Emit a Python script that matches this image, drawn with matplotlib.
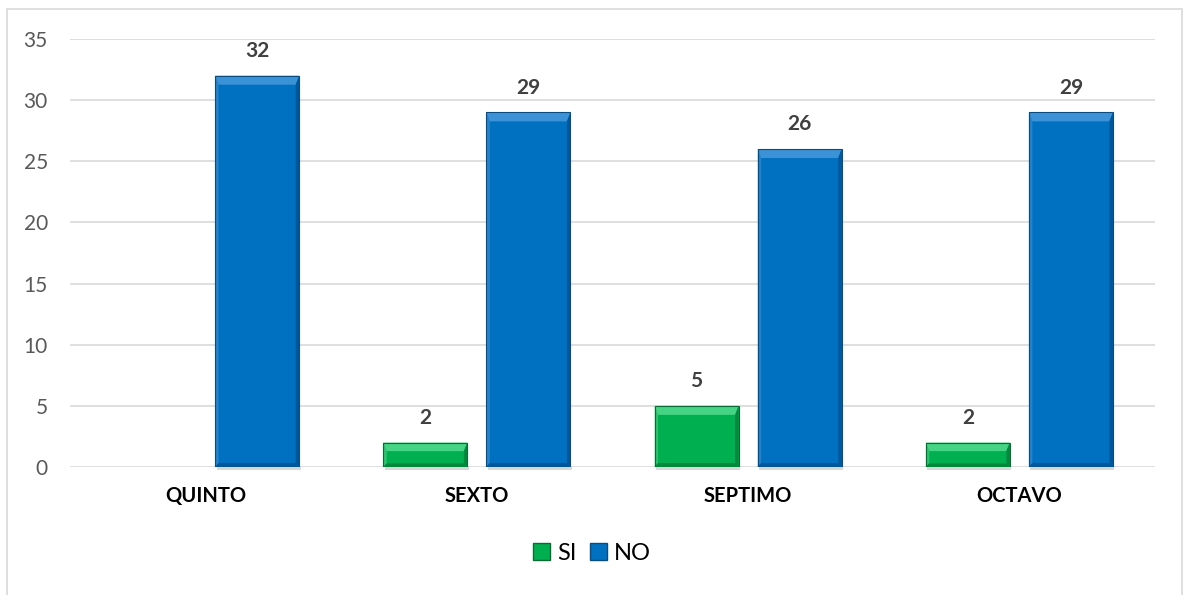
import numpy as np
import matplotlib
matplotlib.use("Agg")
import matplotlib.pyplot as plt
from matplotlib.patches import Polygon, Rectangle

# datos
cursos = ["QUINTO", "SEXTO", "SEPTIMO", "OCTAVO"]
si = [0, 2, 5, 2]
no = [32, 29, 26, 29]

plt.rcParams['font.family'] = ['Lato', 'DejaVu Sans']

fig = plt.figure(figsize=(11.84, 5.95), dpi=100)
ax = fig.add_axes([0.0591, 0.2151, 0.9164, 0.7193])

# borde del grafico
fig.patches.append(Rectangle((0.0055, -0.01), 0.993, 0.9955, transform=fig.transFigure,
                             fill=False, edgecolor="#D9D9D9", linewidth=1.2))

x = np.arange(len(cursos))
w = 0.31
off = 0.19
b1 = ax.bar(x - off, si, w, color="#00B050", zorder=3)
b2 = ax.bar(x + off, no, w, color="#0070C0", zorder=3)

ax.set_xlim(-0.5, 3.5)
ax.set_ylim(0, 35)


# efecto bisel tipo Excel
def bisel(ax, bars, light, dark, darker):
    px = ax.transData.transform((1, 0))[0] - ax.transData.transform((0, 0))[0]
    py = ax.transData.transform((0, 1))[1] - ax.transData.transform((0, 0))[1]
    for r in bars:
        h = r.get_height()
        if h <= 0:
            continue
        x0 = r.get_x()
        x1 = x0 + r.get_width()
        t = min(9.0, h * py * 0.35) / py   # alto bisel superior
        s = 3.5 / px                       # ancho bisel lateral
        bt = min(4.0, h * py * 0.15) / py  # bisel inferior
        ax.add_patch(Polygon([(x0, h), (x1, h), (x1 - s, h - t), (x0 + s, h - t)],
                             closed=True, facecolor=light, edgecolor="none", zorder=4))
        ax.add_patch(Polygon([(x0, 0), (x0, h), (x0 + s, h - t), (x0 + s, bt)],
                             closed=True, facecolor=light, edgecolor="none", alpha=0.6, zorder=4))
        ax.add_patch(Polygon([(x1, 0), (x1, h), (x1 - s, h - t), (x1 - s, bt)],
                             closed=True, facecolor=dark, edgecolor="none", zorder=4))
        ax.add_patch(Polygon([(x0, 0), (x1, 0), (x1 - s, bt), (x0 + s, bt)],
                             closed=True, facecolor=dark, edgecolor="none", zorder=4))
        ax.add_patch(Rectangle((x0, 0), r.get_width(), h, fill=False,
                               edgecolor=darker, linewidth=0.8, zorder=5))
        # sombra
        ax.add_patch(Rectangle((x0 + 1.5 / px, -3.0 / py), r.get_width(), 3.0 / py,
                               facecolor="#BFBFBF", edgecolor="none", alpha=0.6,
                               zorder=2, clip_on=False))


bisel(ax, b1, "#44D483", "#00893D", "#0B6B35")
bisel(ax, b2, "#3B92D6", "#00579A", "#0A4C80")

# etiquetas de datos
for xi, v in zip(x - off, si):
    if v > 0:
        ax.text(xi, v + 1.2, str(v), ha="center", va="bottom", fontsize=15,
                fontweight="bold", color="#404040")
for xi, v in zip(x + off, no):
    ax.text(xi, v + 1.2, str(v), ha="center", va="bottom", fontsize=15,
            fontweight="bold", color="#404040")

ax.set_yticks(range(0, 36, 5))
ax.set_xticks(x)
ax.set_xticklabels(cursos, fontsize=14.5, fontweight="bold", color="black")
ax.tick_params(axis="y", labelsize=15, labelcolor="#595959", length=0, pad=16)
ax.tick_params(axis="x", length=0, pad=14)
ax.grid(axis="y", color="#D9D9D9", linewidth=1.2, zorder=0)
ax.set_axisbelow(True)
for s in ax.spines.values():
    s.set_visible(False)

# leyenda
h1 = Rectangle((0, 0), 1, 1, facecolor="#00B050", edgecolor="#0B6B35")
h2 = Rectangle((0, 0), 1, 1, facecolor="#0070C0", edgecolor="#0A4C80")
fig.legend([h1, h2], ["SI", "NO"], loc="center", bbox_to_anchor=(0.5, 0.07),
           ncol=2, frameon=False, fontsize=17, handlelength=0.7, handleheight=0.7,
           handletextpad=0.3, columnspacing=0.6)

plt.savefig("out.png", dpi=100)
